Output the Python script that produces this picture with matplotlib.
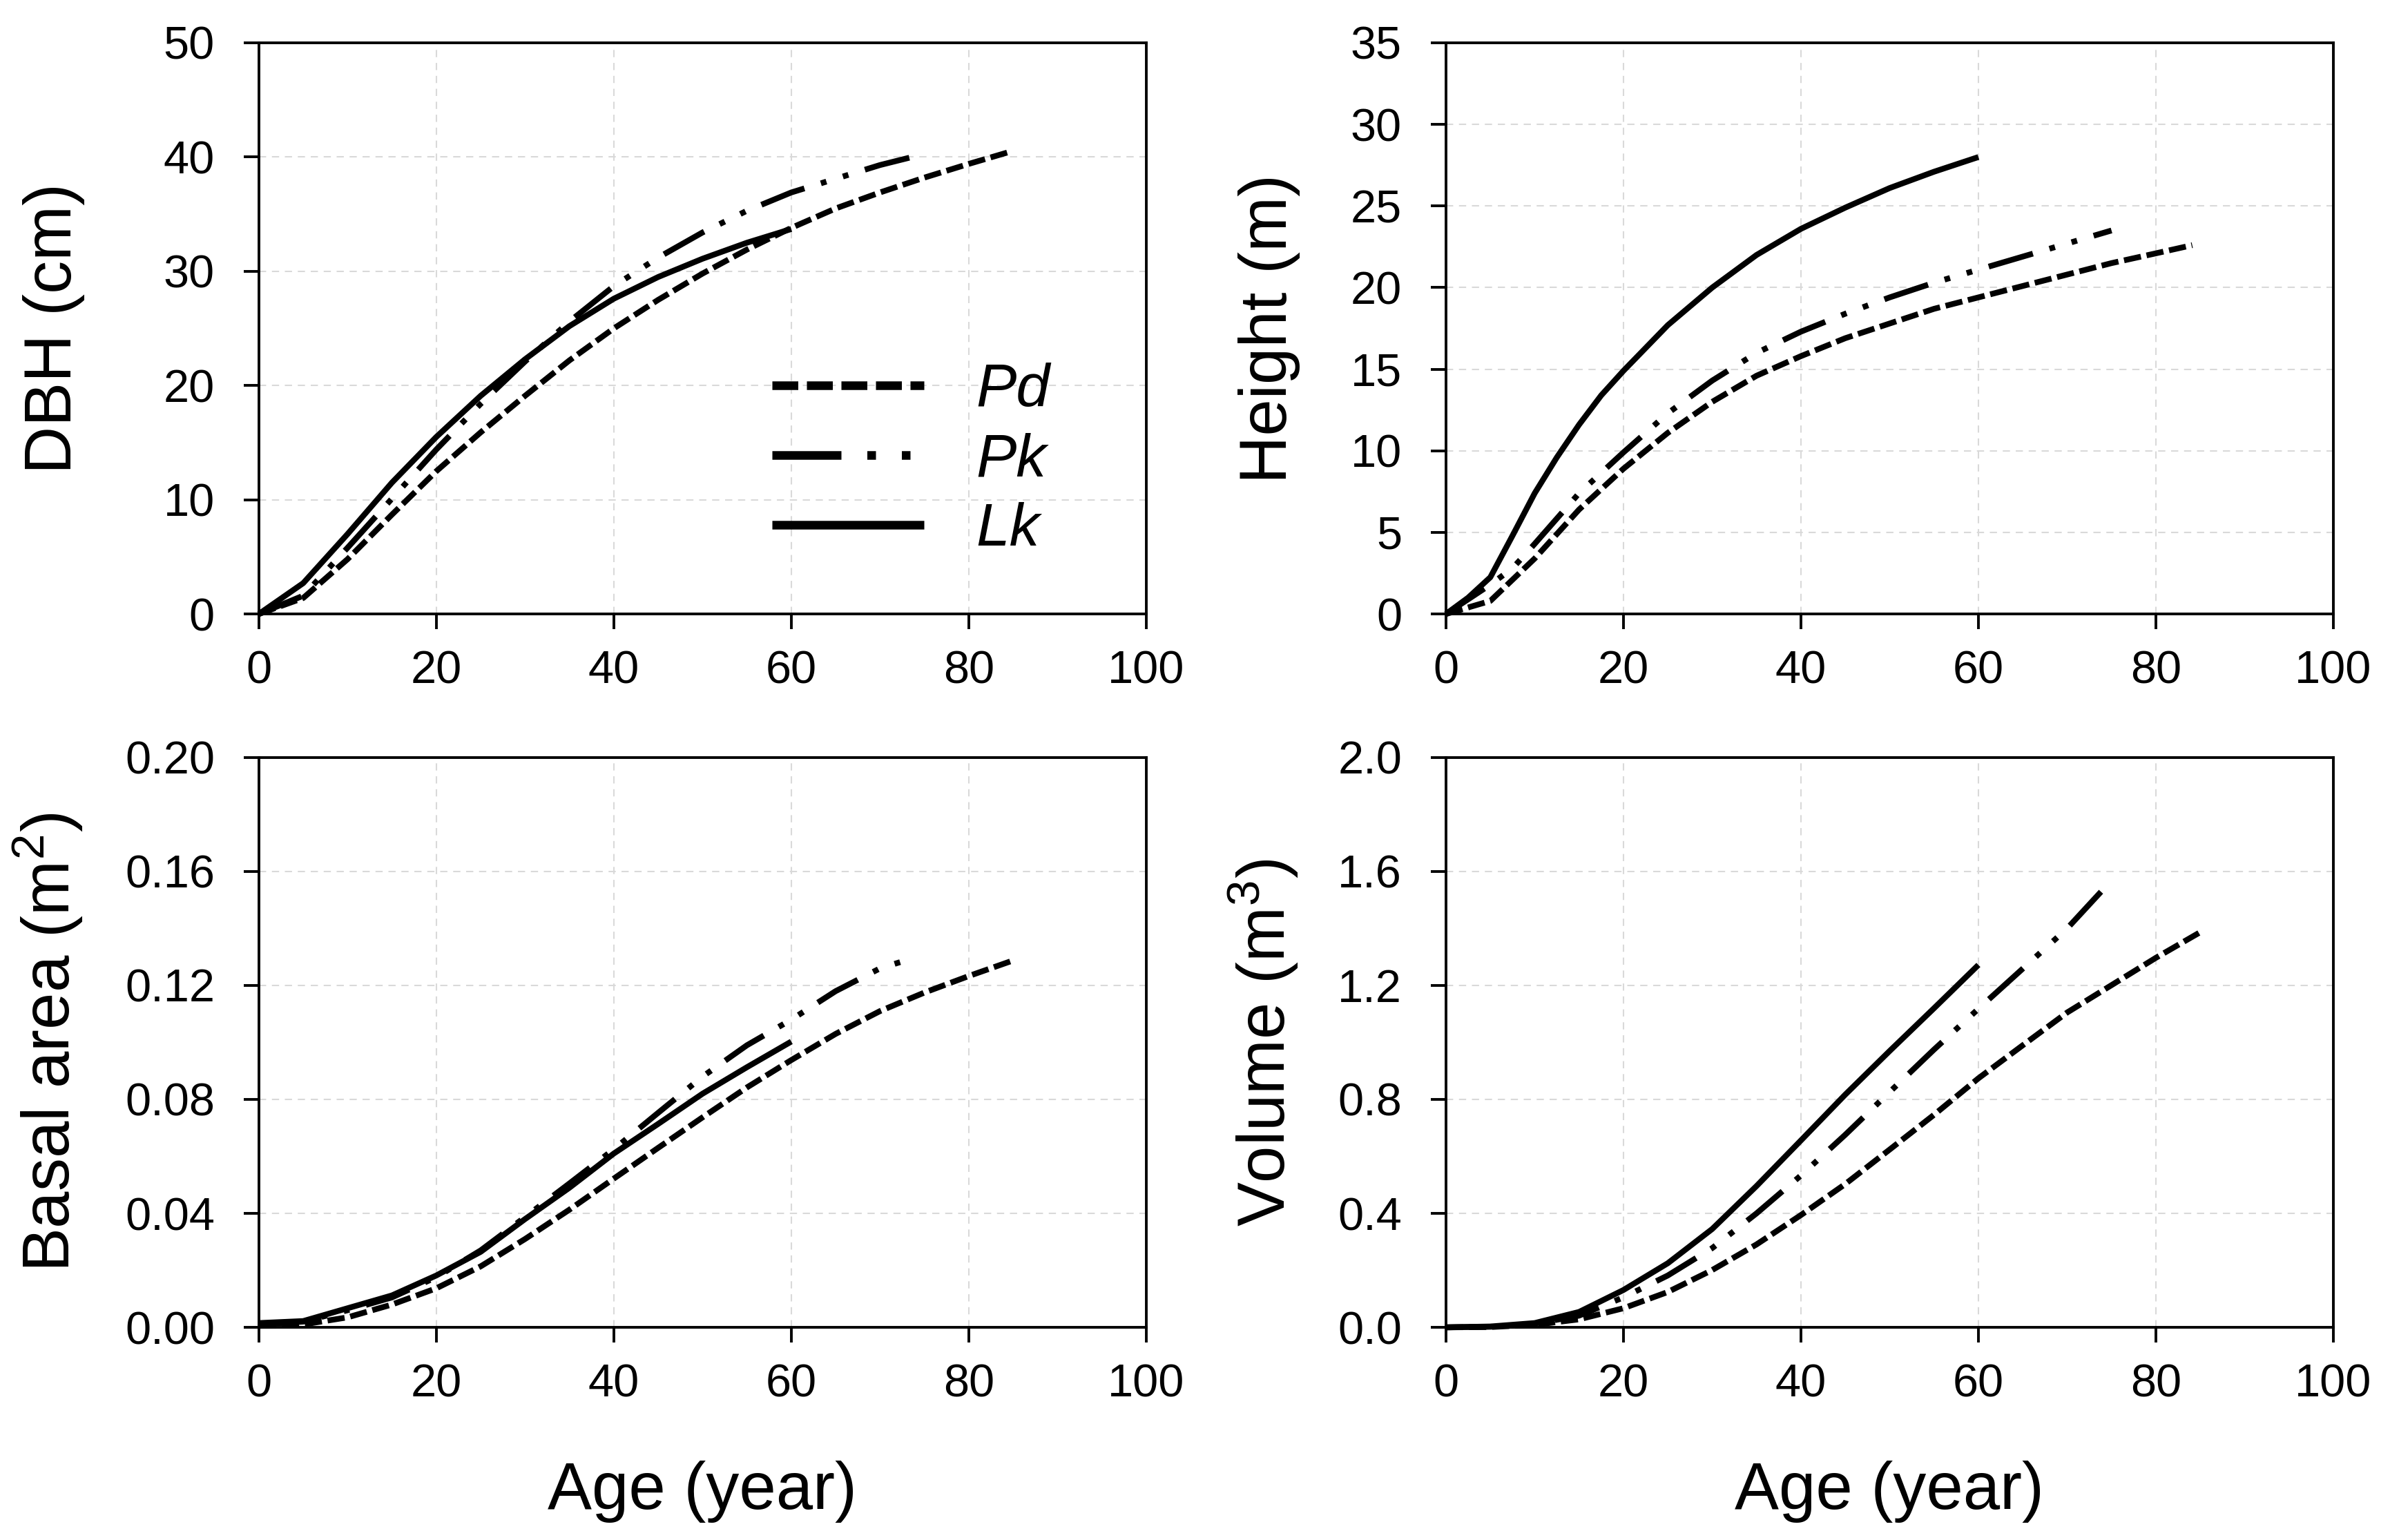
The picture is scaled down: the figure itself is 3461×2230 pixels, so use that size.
import matplotlib
matplotlib.use("Agg")
import matplotlib.pyplot as plt
from matplotlib.lines import Line2D
from matplotlib.ticker import FormatStrFormatter

plt.rcParams['font.family'] = ['Liberation Sans', 'DejaVu Sans']
plt.rcParams['mathtext.fontset'] = 'custom'
plt.rcParams['mathtext.rm'] = 'Liberation Sans'
plt.rcParams['mathtext.default'] = 'regular'

species = ["Pd", "Pk", "Lk"]

# DBH (cm)
age_dbh_pd = [0, 5, 10, 15, 20, 25, 30, 35, 40, 45, 50, 55, 60, 65, 70, 75, 80, 84.8]
dbh_pd = [0, 1.4, 4.8, 8.7, 12.5, 15.9, 19.1, 22.2, 25.0, 27.5, 29.8, 31.9, 33.8, 35.5, 36.9, 38.2, 39.4, 40.5]
age_dbh_pk = [0, 5, 10, 15, 20, 25, 30, 35, 40, 45, 50, 55, 60, 65, 70, 73.6]
dbh_pk = [0, 1.6, 5.8, 10.1, 14.4, 18.4, 22.1, 25.6, 28.7, 31.2, 33.4, 35.3, 36.9, 38.1, 39.3, 40.0]
age_dbh_lk = [0, 5, 10, 15, 20, 25, 30, 35, 40, 45, 50, 55, 60]
dbh_lk = [0, 2.7, 7.0, 11.5, 15.5, 19.1, 22.3, 25.2, 27.6, 29.5, 31.1, 32.5, 33.7]

# Height (m)
age_h_pd = [0, 5, 10, 15, 20, 25, 30, 35, 40, 45, 50, 55, 60, 65, 70, 75, 80, 84.1]
h_pd = [0, 0.8, 3.4, 6.4, 8.9, 11.1, 13.0, 14.6, 15.8, 16.9, 17.8, 18.7, 19.4, 20.1, 20.8, 21.5, 22.1, 22.6]
age_h_pk = [0, 5, 7.5, 10, 15, 20, 25, 30, 35, 40, 45, 50, 55, 60, 65, 70, 75]
h_pk = [0, 1.8, 2.8, 4.3, 7.4, 9.9, 12.3, 14.3, 16.0, 17.3, 18.4, 19.4, 20.3, 21.1, 21.9, 22.7, 23.5]
age_h_lk = [0, 2.5, 5, 7.5, 10, 12.5, 15, 17.5, 20, 25, 30, 35, 40, 45, 50, 55, 60]
h_lk = [0, 1.0, 2.25, 4.8, 7.4, 9.6, 11.6, 13.4, 14.9, 17.7, 20.0, 22.0, 23.6, 24.9, 26.1, 27.1, 28.0]

# Basal area (m2)
age_ba_pd = [0, 5, 10, 15, 20, 25, 30, 35, 40, 45, 50, 55, 60, 65, 70, 75, 80, 85.2]
ba_pd = [0.0005, 0.001, 0.0035, 0.008, 0.0137, 0.0214, 0.031, 0.0413, 0.0522, 0.063, 0.0737, 0.0842,
         0.0938, 0.103, 0.111, 0.1175, 0.1233, 0.129]
age_ba_pk = [0, 5, 10, 15, 20, 25, 30, 35, 40, 45, 50, 55, 60, 65, 70, 72.6]
ba_pk = [0.001, 0.002, 0.006, 0.0105, 0.0176, 0.027, 0.0387, 0.0505, 0.0625, 0.0753, 0.088, 0.099,
         0.108, 0.118, 0.126, 0.1285]
age_ba_lk = [0, 5, 10, 15, 20, 25, 30, 35, 40, 45, 50, 55, 60]
ba_lk = [0.0015, 0.0022, 0.0067, 0.0112, 0.0182, 0.0265, 0.038, 0.049, 0.061, 0.0714, 0.082, 0.0913, 0.1003]

# Volume (m3)
age_v_pd = [0, 5, 10, 15, 20, 25, 30, 35, 40, 45, 50, 55, 60, 65, 70, 75, 80, 85]
v_pd = [0, 0.001, 0.009, 0.028, 0.067, 0.124, 0.201, 0.291, 0.394, 0.503, 0.624, 0.746, 0.874,
        0.99, 1.105, 1.201, 1.297, 1.387]
age_v_pk = [0, 5, 10, 15, 20, 25, 30, 35, 40, 45, 50, 55, 60, 65, 70, 74]
v_pk = [0, 0.002, 0.012, 0.041, 0.105, 0.182, 0.278, 0.400, 0.533, 0.676, 0.826, 0.975, 1.118,
        1.259, 1.40, 1.535]
age_v_lk = [0, 5, 10, 15, 20, 25, 30, 35, 40, 45, 50, 55, 60]
v_lk = [0, 0.003, 0.015, 0.054, 0.131, 0.225, 0.345, 0.496, 0.656, 0.817, 0.97, 1.12, 1.272]

styles = {
    "Pd": (0, (3, 1)),
    "Pk": (0, (8, 3, 1, 3, 1, 3)),
    "Lk": "-",
}

fig = plt.figure(figsize=(34.61, 22.30), dpi=100)

panels = [
    # rect, series, ymax, step, fmt, ylabel, ylabel x
    ([0.1083, 0.6013, 0.3713, 0.3709],
     [(age_dbh_pd, dbh_pd), (age_dbh_pk, dbh_pk), (age_dbh_lk, dbh_lk)],
     50, 10, "%d", "DBH (cm)", -0.196),
    ([0.6050, 0.6013, 0.3713, 0.3709],
     [(age_h_pd, h_pd), (age_h_pk, h_pk), (age_h_lk, h_lk)],
     35, 5, "%d", "Height (m)", -0.164),
    ([0.1083, 0.1381, 0.3713, 0.3700],
     [(age_ba_pd, ba_pd), (age_ba_pk, ba_pk), (age_ba_lk, ba_lk)],
     0.20, 0.04, "%.2f", "Basal area (m$^{2}$)", -0.196),
    ([0.6050, 0.1381, 0.3713, 0.3700],
     [(age_v_pd, v_pd), (age_v_pk, v_pk), (age_v_lk, v_lk)],
     2.0, 0.4, "%.1f", "Volume (m$^{3}$)", -0.164),
]

axes = []
for i, (rect, series, ymax, step, fmt, ylabel, ylx) in enumerate(panels):
    ax = fig.add_axes(rect)
    ax.set_axisbelow(True)
    for name, (xs, ys) in zip(species, series):
        ax.plot(xs, ys, color='black', lw=6, linestyle=styles[name],
                solid_capstyle='butt', dash_capstyle='butt', solid_joinstyle='round',
                clip_on=False, zorder=3)
    ax.set_xlim(0, 100)
    ax.set_ylim(0, ymax)
    ax.set_xticks(range(0, 101, 20))
    n = int(round(ymax / step))
    ax.set_yticks([k * step for k in range(n + 1)])
    ax.yaxis.set_major_formatter(FormatStrFormatter(fmt))
    ax.grid(True, color='#d9d9d9', linestyle=(0, (5, 4)), lw=1.5)
    for sp in ax.spines.values():
        sp.set_linewidth(2.8)
        sp.set_color('black')
    ax.tick_params(axis='both', direction='out', length=16, width=2.8,
                   labelsize=48, top=False, right=False)
    ax.tick_params(axis='y', pad=30)
    ax.tick_params(axis='x', pad=22)
    ax.set_ylabel(ylabel, fontsize=69)
    ax.yaxis.set_label_coords(ylx, 0.5)
    if i >= 2:
        ax.set_xlabel("Age (year)", fontsize=69)
        ax.xaxis.set_label_coords(0.5, -0.234)
    axes.append(ax)

handles = [Line2D([0], [0], color='black', lw=9, linestyle=styles[s],
                  solid_capstyle='butt', dash_capstyle='butt') for s in species]
axes[0].legend(handles, species, loc='upper left', bbox_to_anchor=(0.578, 0.44),
               frameon=False, borderpad=0, borderaxespad=0, handlelength=2.52,
               handletextpad=0.86, labelspacing=0.23,
               prop={'family': 'Liberation Sans', 'style': 'italic', 'size': 63})

fig.savefig("out.png", dpi=100)
